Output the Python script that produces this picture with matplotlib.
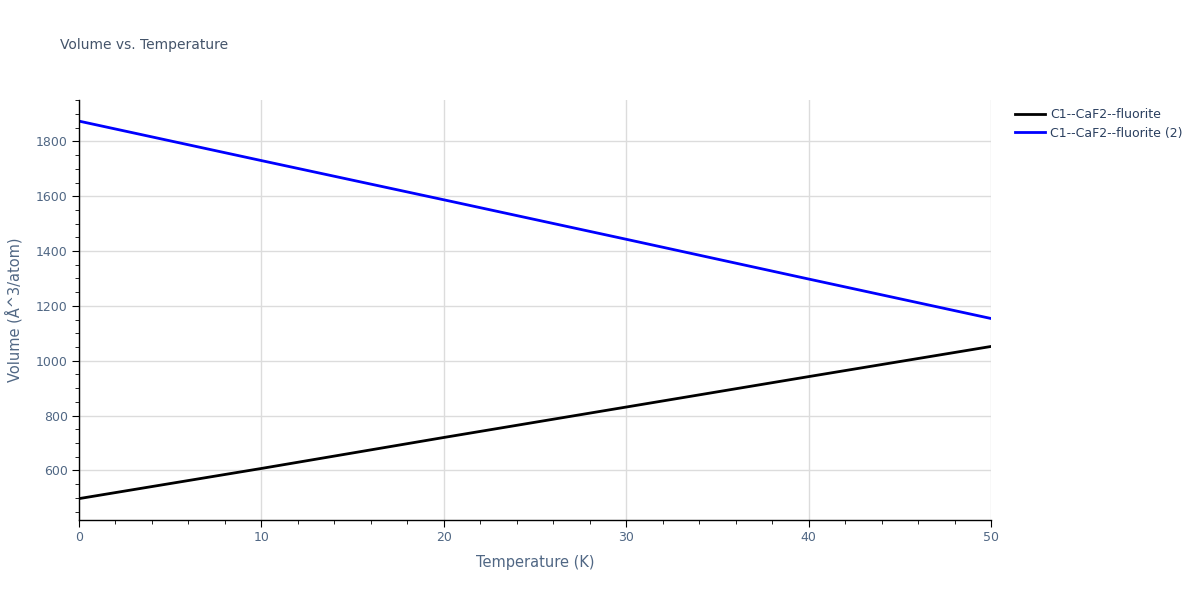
import numpy as np
import matplotlib.pyplot as plt
from matplotlib.ticker import MultipleLocator

# data
temperature = [0, 10, 20, 30, 40, 50]
vol_fluorite = [497, 607, 720, 831, 942, 1052]
vol_fluorite_2 = [1874, 1730, 1587, 1443, 1298, 1154]
series_names = ["C1--CaF2--fluorite", "C1--CaF2--fluorite (2)"]

text_col = "#2a3f5f"
tick_col = "#506784"

fig = plt.figure(figsize=(12, 6), dpi=100)
ax = fig.add_axes([79 / 1200, 80 / 600, 912 / 1200, 420 / 600])

ax.plot(temperature, vol_fluorite, color="black", lw=2, label=series_names[0])
ax.plot(temperature, vol_fluorite_2, color="#0000ff", lw=2, label=series_names[1])

ax.set_xlim(0, 50)
ax.set_ylim(419, 1951)
ax.xaxis.set_major_locator(MultipleLocator(10))
ax.xaxis.set_minor_locator(MultipleLocator(2))
ax.yaxis.set_major_locator(MultipleLocator(200))
ax.yaxis.set_minor_locator(MultipleLocator(50))
ax.set_yticks([600, 800, 1000, 1200, 1400, 1600, 1800])

ax.grid(True, which="major", color="#dcdcdc", lw=1)
ax.set_axisbelow(True)
for s in ["top", "right"]:
    ax.spines[s].set_visible(False)
for s in ["left", "bottom"]:
    ax.spines[s].set_color("black")
    ax.spines[s].set_linewidth(1)

ax.tick_params(which="major", direction="out", length=5, color="black",
               labelcolor=tick_col, labelsize=9, pad=3)
ax.tick_params(which="minor", direction="out", length=3, color="black")

ax.set_xlabel("Temperature (K)", fontsize=10.5, color=tick_col, labelpad=8)
ax.set_ylabel("Volume (Å^3/atom)", fontsize=10.5, color=tick_col, labelpad=10)

fig.text(60 / 1200, 1 - 45 / 600, "Volume vs. Temperature", fontsize=10,
         color="#44546a", va="center", ha="left")

leg = ax.legend(loc="upper left", bbox_to_anchor=(1.014, 1.008), frameon=False,
                fontsize=9, handlelength=2.4, handletextpad=0.4,
                labelspacing=0.45, labelcolor=text_col)

fig.savefig("out.png", dpi=100)
